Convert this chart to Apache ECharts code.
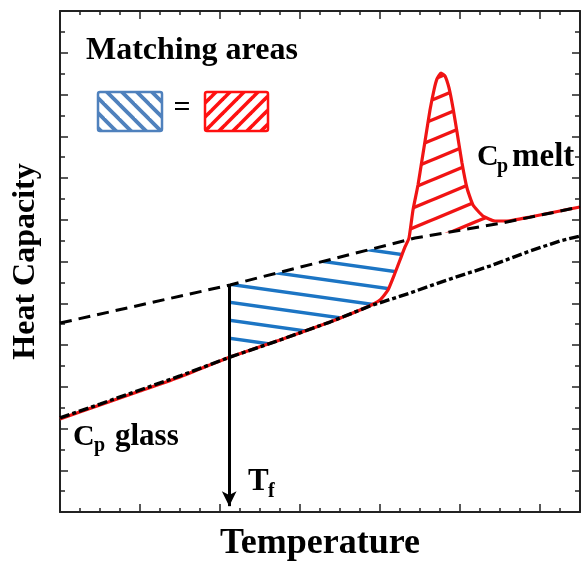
<!DOCTYPE html>
<html>
<head>
<meta charset="utf-8">
<script src="https://cdn.jsdelivr.net/npm/echarts@6/dist/echarts.min.js"></script>
<style>
  html, body { margin: 0; padding: 0; background: #fff; }
  #main { width: 582px; height: 563px; }
</style>
</head>
<body>
<div id="main"></div>
<script>
// readings, arbitrary units: temperature 0..6.5, heat capacity 0..6
const glassT  = [0, 0.5, 1.0, 1.5, 2.125, 2.75, 3.375, 3.875, 4.375, 4.875, 5.375, 5.875, 6.25, 6.5];
const glassCp = [1.126, 1.293, 1.461, 1.629, 1.856, 2.060, 2.275, 2.467, 2.623, 2.790, 2.946, 3.126, 3.246, 3.305];

const meltT  = [0, 2.125, 4.4375, 5.525, 6.5];
const meltCp = [2.263, 2.719, 3.281, 3.461, 3.653];

// measured curve (red)
const dscT  = [0, 0.5, 1.0, 1.5, 2.125, 2.75, 3.375, 3.8375, 4.0, 4.1, 4.1875, 4.25, 4.3125, 4.3625, 4.4125,
               4.475, 4.525, 4.575, 4.625, 4.675, 4.7125, 4.7625, 4.8125, 4.8625, 4.9125, 4.9625, 5.025, 5.0875,
               5.1625, 5.2875, 5.4375, 5.5875, 5.875, 6.1875, 6.5];
const dscCp = [1.114, 1.281, 1.449, 1.617, 1.856, 2.060, 2.275, 2.455, 2.539, 2.659, 2.862, 3.018, 3.174, 3.281, 3.617,
               3.916, 4.216, 4.515, 4.814, 5.054, 5.186, 5.257, 5.222, 5.078, 4.838, 4.551, 4.180, 3.880,
               3.677, 3.545, 3.485, 3.485, 3.533, 3.593, 3.653];

const tf = 2.115;          // fictive temperature
const tfArrowEnd = 0.07;
const redHatchEnd = 5.45;

const font = '"Liberation Serif", "Times New Roman", serif';

function interp(xs, ys, x) {
  if (x <= xs[0]) return ys[0];
  for (let i = 1; i < xs.length; i++) {
    if (x <= xs[i]) {
      const f = (x - xs[i - 1]) / (xs[i] - xs[i - 1]);
      return ys[i - 1] + f * (ys[i] - ys[i - 1]);
    }
  }
  return ys[ys.length - 1];
}
const meltAt = x => interp(meltT, meltCp, x);
const dscAt = x => interp(dscT, dscCp, x);

// where the measured curve climbs over the melt line
function findCross() {
  let a = tf, b = 4.6;
  for (let i = 0; i < 50; i++) {
    const m = (a + b) / 2;
    if (dscAt(m) - meltAt(m) < 0) a = m; else b = m;
  }
  return (a + b) / 2;
}
const cross = findCross();

function between(xs, lo, hi) {
  return xs.filter(x => x > lo && x < hi);
}

function bluePoly() {
  const top = [tf].concat(between(meltT.concat(dscT), tf, cross).sort((a, b) => a - b), [cross]);
  const pts = top.map(x => [x, meltAt(x)]);
  const bot = [tf].concat(between(dscT, tf, cross), [cross]).reverse();
  return pts.concat(bot.map(x => [x, dscAt(x)]));
}
function redPoly() {
  const top = [cross].concat(between(dscT, cross, redHatchEnd), [redHatchEnd]);
  const pts = top.map(x => [x, dscAt(x)]);
  const bot = [cross].concat(between(meltT.concat(dscT), cross, redHatchEnd).sort((a, b) => a - b), [redHatchEnd]).reverse();
  return pts.concat(bot.map(x => [x, meltAt(x)]));
}

function stripes(w, h, color, width, rising) {
  const c = document.createElement('canvas');
  c.width = w; c.height = h;
  const ctx = c.getContext('2d');
  ctx.strokeStyle = color;
  ctx.lineWidth = width;
  for (let k = -2; k <= 2; k++) {
    ctx.beginPath();
    if (rising) {
      ctx.moveTo(-w, k * h + 2 * h);
      ctx.lineTo(2 * w, k * h - h);
    } else {
      ctx.moveTo(-w, k * h - h);
      ctx.lineTo(2 * w, k * h + 2 * h);
    }
    ctx.stroke();
  }
  return { image: c, repeat: 'repeat' };
}

const blueHatch = stripes(128, 18, '#1c75c4', 3.4, false);
const redHatch = stripes(48, 20, '#f01414', 3.4, true);
const blueKey = stripes(15, 15, '#4f81bd', 3.8, false);
const redKey = stripes(14, 14, '#ff1010', 3.6, true);

const axisCol = '#222';
function xAx(pos, interval, len, withLine, name) {
  return {
    type: 'value', position: pos, min: 0, max: 6.5, interval: interval,
    axisLine: { show: withLine, onZero: false, lineStyle: { color: axisCol, width: 2 } },
    axisTick: { show: true, inside: true, length: len, lineStyle: { color: axisCol, width: 1.5 } },
    axisLabel: { show: false },
    splitLine: { show: false },
    name: name || '',
    nameLocation: 'middle',
    nameGap: 14,
    nameTextStyle: { fontFamily: font, fontWeight: 'bold', fontSize: 36, color: '#000' }
  };
}
function yAx(pos, name) {
  return {
    type: 'value', position: pos, min: 0, max: 6, interval: 0.5,
    axisLine: { show: true, onZero: false, lineStyle: { color: axisCol, width: 2 } },
    axisTick: { show: true, inside: true, length: 8, lineStyle: { color: axisCol, width: 1.5 } },
    minorTick: { show: true, splitNumber: 2, length: 5, lineStyle: { color: axisCol, width: 1.5 } },
    axisLabel: { show: false },
    splitLine: { show: false },
    name: name || '',
    nameLocation: 'middle',
    nameGap: 18,
    nameTextStyle: { fontFamily: font, fontWeight: 'bold', fontSize: 32, color: '#000' }
  };
}

const chart = echarts.init(document.getElementById('main'));

const option = {
  animation: false,
  backgroundColor: '#fff',
  grid: { left: 60, right: 2, top: 11, bottom: 51, containLabel: false, outerBoundsMode: 'none' },
  xAxis: [
    xAx('bottom', 1, 8, true, 'Temperature'),
    xAx('top', 1, 8, true),
    xAx('bottom', 0.25, 4, false),
    xAx('top', 0.25, 4, false)
  ],
  yAxis: [
    yAx('left', 'Heat Capacity'),
    yAx('right')
  ],
  series: [
    {
      type: 'custom',
      z: 1,
      silent: true,
      data: [[tf, 2], [cross, 3]],
      renderItem: function (params, api) {
        const poly = params.dataIndex === 0 ? bluePoly() : redPoly();
        return {
          type: 'polygon',
          shape: { points: poly.map(p => api.coord(p)) },
          style: { fill: params.dataIndex === 0 ? blueHatch : redHatch, stroke: null }
        };
      }
    },
    {
      name: 'measured',
      type: 'line',
      z: 2,
      data: dscT.map((t, i) => [t, dscCp[i]]),
      showSymbol: false,
      smooth: 0.15,
      lineStyle: { color: '#f01414', width: 3.2 }
    },
    {
      name: 'Cp glass',
      type: 'line',
      z: 3,
      data: glassT.map((t, i) => [t, glassCp[i]]),
      showSymbol: false,
      lineStyle: { color: '#000', width: 3.4, type: [10, 3, 4, 3] }
    },
    {
      name: 'Cp melt',
      type: 'line',
      z: 3,
      data: meltT.map((t, i) => [t, meltCp[i]]),
      showSymbol: false,
      lineStyle: { color: '#000', width: 3, type: [12, 7] },
      markLine: {
        silent: true,
        symbol: ['none', 'arrow'],
        symbolSize: [11, 15],
        label: { show: false },
        lineStyle: { color: '#000', width: 3, type: 'solid' },
        data: [[{ coord: [tf, meltAt(tf)] }, { coord: [tf, tfArrowEnd] }]]
      }
    }
  ],
  graphic: [
    { type: 'text', x: 86, y: 50.5, style: { text: 'Matching areas', font: 'bold 32px ' + font, fill: '#000', align: 'left', verticalAlign: 'middle' } },
    { type: 'rect', shape: { x: 98, y: 92, width: 64, height: 39, r: 2 }, style: { fill: blueKey, stroke: '#4f81bd', lineWidth: 2.5 } },
    { type: 'text', x: 182, y: 108.5, style: { text: '=', font: 'bold 30px ' + font, fill: '#000', align: 'center', verticalAlign: 'middle' } },
    { type: 'rect', shape: { x: 205, y: 92, width: 63, height: 39, r: 2 }, style: { fill: redKey, stroke: '#ff1010', lineWidth: 2.5 } },

    { type: 'text', x: 73, y: 437, style: { text: 'C', font: 'bold 30px ' + font, fill: '#000', verticalAlign: 'middle' } },
    { type: 'text', x: 94, y: 446, style: { text: 'p', font: 'bold 20px ' + font, fill: '#000', verticalAlign: 'middle' } },
    { type: 'text', x: 115, y: 437, style: { text: 'glass', font: 'bold 31px ' + font, fill: '#000', verticalAlign: 'middle' } },

    { type: 'text', x: 477, y: 157, style: { text: 'C', font: 'bold 30px ' + font, fill: '#000', verticalAlign: 'middle' } },
    { type: 'text', x: 497, y: 167, style: { text: 'p', font: 'bold 20px ' + font, fill: '#000', verticalAlign: 'middle' } },
    { type: 'text', x: 512, y: 157, style: { text: 'melt', font: 'bold 33px ' + font, fill: '#000', verticalAlign: 'middle' } },

    { type: 'text', x: 248, y: 481.5, style: { text: 'T', font: 'bold 31px ' + font, fill: '#000', verticalAlign: 'middle' } },
    { type: 'text', x: 268, y: 492, style: { text: 'f', font: 'bold 20px ' + font, fill: '#000', verticalAlign: 'middle' } }
  ]
};

chart.setOption(option);
</script>
</body>
</html>
